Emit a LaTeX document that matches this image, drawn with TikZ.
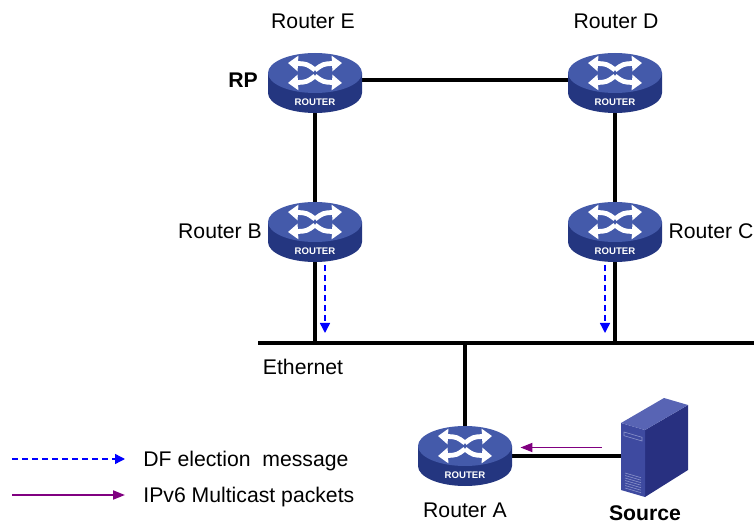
\documentclass[tikz,border=0pt]{standalone}
\usepackage{fontspec}
\setmainfont{Liberation Sans}
\usetikzlibrary{arrows.meta,positioning,calc,backgrounds}
\definecolor{RtrTop}{RGB}{68,90,170}
\definecolor{RtrSide}{RGB}{36,54,128}
\definecolor{SrvTop}{RGB}{88,100,180}
\definecolor{SrvFront}{RGB}{62,74,160}
\definecolor{SrvSide}{RGB}{40,48,128}
\definecolor{DFblue}{RGB}{0,0,255}
\definecolor{McPurple}{RGB}{128,0,128}
\tikzset{
  router/.pic={
    \fill[RtrSide] (-47,0) -- (-47,20) arc[start angle=180,end angle=0,x radius=47,y radius=20] -- (47,0) -- cycle;
    \fill[RtrTop] (0,0) ellipse[x radius=47,y radius=20];
    % crossing arrows on the lid
    \foreach \sx in {-1,1}{
      \draw[white,line width=2.4pt,-{Triangle[length=5pt,width=7.5pt]}] (0,-3) .. controls (\sx*8,-9) .. (\sx*27,-10);
      \draw[white,line width=2.4pt,-{Triangle[length=5pt,width=7.5pt]}] (0,3) .. controls (\sx*8,9) .. (\sx*27,10);
    }
    \node[white,font=\fontsize{4.8}{5}\selectfont\bfseries,inner sep=0] at (0,29) {ROUTER};
    \node[inner sep=0,minimum width=47pt,minimum height=30pt] (-box) at (0,10) {};
  },
  server/.pic={
    \fill[SrvSide] (24,7) -- (67,-18) -- (67,47) -- (24,74) -- cycle;
    \fill[SrvFront] (0,0) -- (24,7) -- (24,74) -- (0,67) -- cycle;
    \fill[SrvTop] (0,0) -- (43,-25) -- (67,-18) -- (24,7) -- cycle;
    % bay and vent slots on the front
    \draw[SrvTop!70!white,line width=0.3pt] (3,9) -- (21,14.3) -- (21,18) -- (3,12.7) -- cycle;
    \foreach \k in {0,...,6}
      \draw[SrvTop!70!white,line width=0.3pt] (4,50+\k*2.5) -- (20,54.7+\k*2.5);
    \node[inner sep=0,minimum width=33.5pt,minimum height=49.5pt] (-box) at (33.5,24.5) {};
  },
}

\begin{document}
\begin{tikzpicture}[x=0.5pt,y=-0.5pt,
  lbl/.style={inner sep=0,text height=7.6pt,text depth=0pt,font=\fontsize{10.6}{12}\selectfont},
  lblb/.style={lbl,font=\fontsize{10.6}{12}\selectfont\bfseries},
  link/.style={line width=1.7pt},
  dfmsg/.style={DFblue,densely dashed,line width=0.7pt,-{Triangle[length=5pt,width=5pt]}},
  mcast/.style={McPurple,line width=0.9pt,-{Triangle[length=6pt,width=4.5pt]}}]
  \useasboundingbox (0,0) rectangle (754,523);
  % devices
  \pic (E) at (315,73) {router};
  \pic (D) at (615,73) {router};
  \pic (B) at (315,222) {router};
  \pic (C) at (615,222) {router};
  \pic (A) at (465,446) {router};
  \pic (src) at (621,423) {server};
  % ethernet segment
  \coordinate (ethL) at (258,343);
  \coordinate (ethR) at (754,343);
  \begin{scope}[on background layer]
    \draw[link] ($(E-box.center)+(0,-3)$) -- ($(D-box.center)+(0,-3)$);
    \draw[link] (E-box.center) -- (B-box.center);
    \draw[link] (D-box.center) -- (C-box.center);
    \draw[link] (B-box.center) -- (B-box.center |- ethL);
    \draw[link] (C-box.center) -- (C-box.center |- ethL);
    \draw[link] (ethL) -- (ethR);
    \draw[link] (A-box.center |- ethL) -- (A-box.center);
    \draw[link] (A-box.center) -- (A-box.center -| src-box.center);
  \end{scope}
  % DF election and multicast flow
  \draw[dfmsg] ($(B-box.south)+(10,3)$) -- ($(B-box.south |- ethL)+(10,-10)$);
  \draw[dfmsg] ($(C-box.south)+(-10,3)$) -- ($(C-box.south |- ethL)+(-10,-10)$);
  \draw[mcast] ($(src-box.west)+(-19,0)$) -- ($(src-box.west -| A-box.east)+(8,0)$);
  % labels
  \node[lbl] (lE) at (313,21) {Router E};
  \node[lbl] (lD) at (616,21) {Router D};
  \node[lblb] (rp) at (243,80) {RP};
  \node[lbl] (lB) at (220,231) {Router B};
  \node[lbl] (lC) at (711,231) {Router C};
  \node[lbl] (eth) at (303,367) {Ethernet};
  \node[lbl] (lA) at (465,510) {Router A};
  \node[lblb] (lsrc) at (645,513) {Source};
  % legend
  \coordinate (dfS) at (12,459);
  \coordinate (dfE) at (125,459);
  \coordinate (mcS) at (12,495);
  \coordinate (mcE) at (125,495);
  \draw[dfmsg] (dfS) -- (dfE);
  \draw[mcast] (mcS) -- (mcE);
  \node[lbl,anchor=west] (dfT) at (143,459) {DF election\ \ message};
  \node[lbl,anchor=west] (mcT) at (143,495) {IPv6 Multicast packets};
\end{tikzpicture}
\end{document}
